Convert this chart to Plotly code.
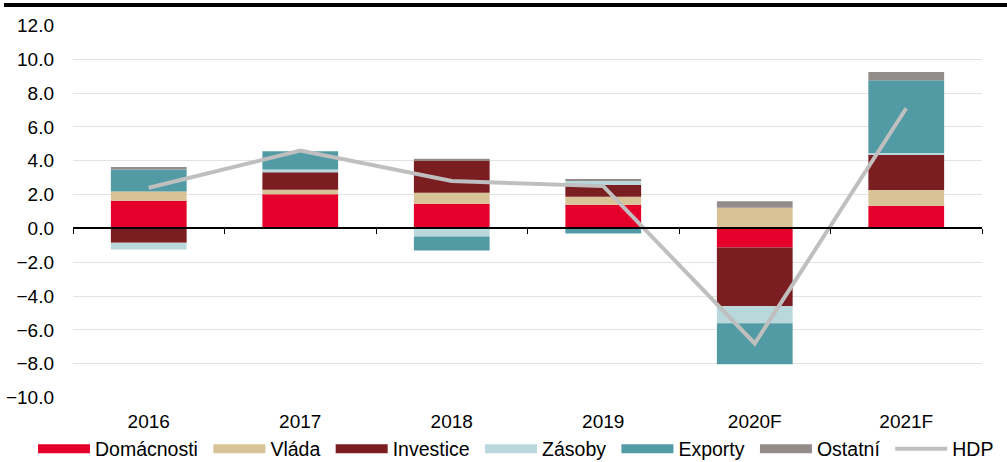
import plotly.graph_objects as go

categories = ["2016", "2017", "2018", "2019", "2020F", "2021F"]
domacnosti = [1.63, 2.02, 1.46, 1.40, -1.12, 1.34]
vlada = [0.55, 0.26, 0.65, 0.47, 1.22, 0.93]
investice = [-0.84, 1.04, 1.90, 0.71, -3.48, 2.08]
zasoby = [-0.41, 0.16, -0.47, 0.24, -1.00, 0.10]
exporty = [1.30, 1.08, -0.83, -0.30, -2.42, 4.31]
ostatni = [0.15, 0.0, 0.10, 0.05, 0.39, 0.49]
hdp = [2.4, 4.6, 2.8, 2.5, -6.8, 7.1]

y_ticks = [-10, -8, -6, -4, -2, 0, 2, 4, 6, 8, 10, 12]

series = [
    ("Domácnosti", domacnosti, "#E4002B"),
    ("Vláda", vlada, "#D7C396"),
    ("Investice", investice, "#7B1E22"),
    ("Zásoby", zasoby, "#B8D8DC"),
    ("Exporty", exporty, "#529BA5"),
    ("Ostatní", ostatni, "#948C8A"),
]

FONT = "Liberation Sans, Arial, sans-serif"
NBSP = "\u00a0"

fig = go.Figure()
for name, vals, col in series:
    fig.add_trace(go.Bar(x=categories, y=vals, name=name, marker_color=col,
                         marker_line_width=0, showlegend=False))
# legend swatches
for name, vals, col in series:
    fig.add_trace(go.Scatter(x=[None], y=[None], mode="lines", name=name + NBSP,
                             line=dict(color=col, width=9), showlegend=True,
                             hoverinfo="skip"))

fig.add_trace(go.Scatter(x=categories, y=hdp, name="HDP", mode="lines",
                         line=dict(color="#BFBFBF", width=4), xaxis="x2"))

W, H = 1007, 462
ml, mr, mt, mb = 73, 25, 25, 64
ymin, ymax = -10, 12
zero_pos = (0 - ymin) / (ymax - ymin)
xr = [-0.5, len(categories) - 0.5]
ph = H - mt - mb
pw = W - ml - mr

fig.update_layout(
    width=W, height=H,
    margin=dict(l=ml, r=mr, t=mt, b=mb, pad=0, autoexpand=False),
    barmode="relative",
    bargap=0.5,
    plot_bgcolor="white", paper_bgcolor="white",
    font=dict(family=FONT, size=19, color="#000000"),
    xaxis=dict(type="category", categoryorder="array", categoryarray=categories,
               range=xr, showgrid=False, showline=False, ticks="", zeroline=False,
               tickfont=dict(size=19), ticklabelstandoff=10, automargin=False),
    xaxis2=dict(type="category", categoryorder="array", categoryarray=categories,
                range=xr, overlaying="x", anchor="free", position=zero_pos,
                showgrid=False, showline=True, linecolor="#000000", linewidth=1.5,
                ticks="outside", tickson="boundaries", ticklen=5, tickcolor="#000000",
                tickwidth=1, showticklabels=False, zeroline=False, automargin=False),
    yaxis=dict(range=[ymin - 0.02, ymax + 0.02], tickvals=y_ticks, tickformat=".1f",
               showgrid=True, gridcolor="#E3E3E3", gridwidth=1, zeroline=False,
               showline=False, ticks="", tickfont=dict(size=19), ticklabelstandoff=18,
               automargin=False),
    legend=dict(orientation="h", x=(38 - 5 - ml) / pw, xanchor="left",
                y=(H - mb - 449) / ph, yanchor="middle",
                font=dict(size=19.5), itemwidth=52, tracegroupgap=0,
                bgcolor="rgba(0,0,0,0)"),
    shapes=[dict(type="line", xref="paper", yref="paper",
                 x0=(4 - ml) / pw, x1=(W - ml) / pw,
                 y0=(H - mb - 5) / ph, y1=(H - mb - 5) / ph,
                 line=dict(color="#000000", width=4))],
)

fig.write_html(
    "out.html",
    config={"displayModeBar": False},
    post_script="document.body.style.margin='0';document.body.style.padding='0';"
                "document.body.style.overflow='hidden';",
)
